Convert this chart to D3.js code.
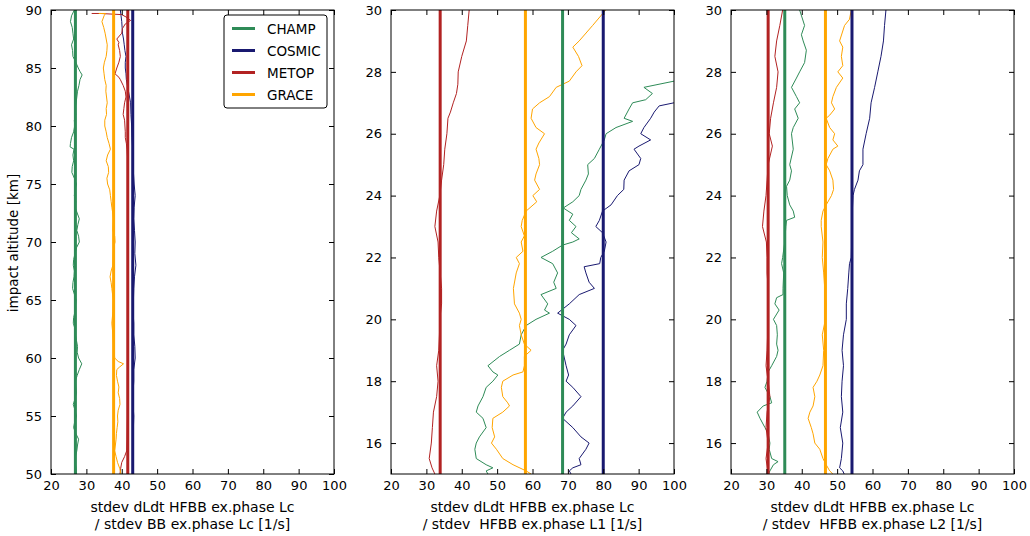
<!DOCTYPE html>
<html>
<head>
<meta charset="utf-8">
<script src="https://cdn.jsdelivr.net/npm/d3@7/dist/d3.min.js"></script>
<style>
  body { margin: 0; background: #fff; }
  svg { display: block; }
  text { font-family: "DejaVu Sans", sans-serif; fill: #000; white-space: pre; }
</style>
</head>
<body>
<svg id="chart" width="1030" height="536"></svg>
<script>
// ---------------- DATA ----------------
const missions = ["CHAMP", "COSMIC", "METOP", "GRACE"];
const colors = { CHAMP: "#2e8b57", COSMIC: "#191970", METOP: "#b22222", GRACE: "#ffa500" };

const xTicks = [20, 30, 40, 50, 60, 70, 80, 90, 100];
const yTicksP1 = [50, 55, 60, 65, 70, 75, 80, 85, 90];
const yTicksP23 = [16, 18, 20, 22, 24, 26, 28, 30];

const xLabel1 = ["stdev dLdt HFBB ex.phase Lc", "/ stdev BB ex.phase Lc [1/s]"];
const xLabel2 = ["stdev dLdt HFBB ex.phase Lc", "/ stdev  HFBB ex.phase L1 [1/s]"];
const xLabel3 = ["stdev dLdt HFBB ex.phase Lc", "/ stdev  HFBB ex.phase L2 [1/s]"];
const yLabel = "impact altitude [km]";

// mean values (thick vertical lines)
const meanP1 = { CHAMP: 26.9, COSMIC: 43.1, METOP: 41.7, GRACE: 37.7 };
const meanP2 = { CHAMP: 68.5, COSMIC: 80.0, METOP: 33.9, GRACE: 58.0 };
const meanP3 = { CHAMP: 35.2, COSMIC: 54.2, METOP: 30.5, GRACE: 46.7 };

// profiles: [altitude, value]
const p1_CHAMP = [[90,26.6],[89.5,25.8],[89,25.5],[88.5,26.0],[88,26.2],[87.5,26.4],[87,25.8],[86.5,26.1],[86,26.2],[85.5,27.0],[85,27.7],[84.7,28.2],[84.4,28.8],[84,28.2],[83.5,27.9],[83,27.5],[82.5,27.3],[82,27.1],[81.5,26.8],[81,27.0],[80.5,26.6],[80,26.7],[79.5,26.4],[79,25.8],[78.5,25.5],[78.2,25.4],[78,26.5],[77.5,26.2],[77,26.4],[76.5,26.0],[76,25.9],[75.5,26.6],[75,27.2],[74.5,26.8],[74,26.6],[73.5,27.0],[73,26.8],[72.5,27.4],[72,28.0],[71.5,27.6],[71,27.3],[70.5,27.8],[70,28.0],[69.5,27.2],[69,26.8],[68.5,26.4],[68,26.3],[67.5,26.6],[67,26.5],[66.5,26.2],[66,26.1],[65.5,26.6],[65,27.1],[64.5,26.9],[64,26.8],[63.5,26.4],[63,26.3],[62.5,26.8],[62,26.9],[61.5,27.2],[61,27.5],[60.5,27.4],[60,27.8],[59.5,28.7],[59,28.0],[58.5,27.4],[58,26.9],[57.5,27.0],[57,27.2],[56.5,26.8],[56,26.3],[55.5,26.8],[55,27.2],[54.5,26.7],[54,26.4],[53.5,27.0],[53,27.8],[52.5,27.5],[52,27.3],[51.5,26.9],[51,26.8],[50.5,27.1],[50,27.2]];
const p1_COSMIC = [[90,39.6],[89.5,39.8],[89,40.0],[88.5,40.1],[88,40.2],[87.5,40.5],[87,40.7],[86.5,40.9],[86,41.2],[85.5,41.0],[85,41.0],[84.5,41.2],[84,41.3],[83.5,41.6],[83,41.9],[82.5,42.2],[82,42.5],[81,42.6],[80,42.8],[79,42.9],[78,43.1],[77,43.2],[76,43.3],[75,43.5],[74,43.8],[73,43.5],[72,43.4],[71,43.6],[70,43.8],[69,43.7],[68,44.0],[67,43.6],[66,43.4],[65,43.3],[64,43.2],[63,43.4],[62,43.4],[61,43.7],[60,43.8],[59,43.4],[58,43.4],[57,43.2],[56,43.2],[55,43.4],[54,43.3],[53,43.2],[52,43.1],[51,43.2],[50,43.2]];
const p1_METOP = [[89.7,31.5],[89.7,34.0],[89.6,40.0],[89.4,41.2],[89.1,42.5],[88.8,41.0],[88.4,40.2],[88,40.0],[87.5,38.6],[87.2,39.2],[87,39.0],[86.5,39.4],[86,39.6],[85.5,39.2],[85,38.6],[84.5,38.1],[84.2,39.2],[84,39.6],[83.5,40.4],[83,41.0],[82.5,41.2],[82,40.8],[81.5,40.6],[81,40.4],[80.5,40.8],[80,40.9],[79.5,41.0],[79,41.0],[78.5,41.3],[78,41.5],[77,41.7],[75,41.7],[73,41.7],[70,41.7],[67,41.7],[64,41.7],[61,41.7],[58,41.6],[55,41.6],[53,41.5],[52,41.4],[51.5,40.8],[51,40.0],[50.5,39.7],[50,39.5]];
const p1_GRACE = [[89.7,33.5],[89.7,35.4],[89.5,35.0],[89,34.4],[88.5,34.9],[88,35.3],[87.5,35.6],[87,35.9],[86.5,35.8],[86,35.6],[85.5,35.1],[85,34.8],[84.5,35.0],[84,35.2],[83.5,35.6],[83,35.5],[82.5,35.7],[82,35.9],[81.5,35.6],[81,35.7],[80.5,35.2],[80,35.2],[79.5,35.6],[79,35.9],[78.5,36.4],[78,36.8],[77.5,36.0],[77,35.6],[76.5,36.2],[76,36.3],[75.5,35.8],[75,36.0],[74.5,36.6],[74,36.8],[73.5,37.0],[73,37.2],[72,37.7],[71,37.5],[70.5,38.0],[70,38.1],[69.5,37.7],[69,37.6],[68,37.5],[67.5,37.0],[67,36.7],[66.5,37.0],[66,37.2],[65,37.6],[64,37.5],[63,37.2],[62,37.5],[61,37.7],[60,38.0],[59.7,39.0],[59.5,40.5],[59.2,39.3],[59,38.6],[58.5,38.5],[58,38.8],[57.5,39.2],[57,39.0],[56.5,39.4],[56,39.5],[55.5,39.0],[55,38.8],[54.5,38.9],[54,38.7],[53.5,38.5],[53,38.4],[52.5,38.2],[52,38.0],[51.5,38.4],[51,38.8],[50.5,39.4],[50,39.8]];

const p2_CHAMP = [[27.7,100],[27.5,91.5],[27.3,93.9],[27.1,92.0],[27,88.3],[26.8,87.3],[26.5,85.9],[26.4,88.3],[26.2,83.6],[26,80.8],[25.8,80.3],[25.5,78.9],[25.2,77.5],[25,75.6],[24.7,75.8],[24.5,75.1],[24.2,73.7],[24,73.2],[23.8,71.4],[23.6,68.7],[23.4,71.4],[23.2,70.4],[23,72.3],[22.8,71.0],[22.6,73.2],[22.5,71.4],[22.4,68.5],[22.2,65.7],[22,62.4],[21.8,65.7],[21.5,67.1],[21.2,66.0],[21,66.7],[20.8,62.4],[20.5,64.3],[20.3,63.4],[20.2,64.8],[20,61.0],[19.8,58.2],[19.5,56.8],[19.2,56.3],[19,53.5],[18.8,50.7],[18.5,47.4],[18.3,48.8],[18.2,50.2],[18,48.8],[17.8,46.9],[17.5,46.0],[17.2,44.6],[17,44.1],[16.8,46.0],[16.5,46.9],[16.2,45.0],[16,44.1],[15.8,43.7],[15.5,44.1],[15.3,46.9],[15.2,48.8],[15.1,46.9],[15,47.4]];
const p2_COSMIC = [[27,100],[26.9,95.8],[26.7,94.4],[26.5,93.4],[26.2,91.5],[26,90.6],[25.8,93.4],[25.6,90.1],[25.5,88.7],[25.2,90.6],[25,90.1],[24.8,87.3],[24.5,85.9],[24.2,85.8],[24,84.0],[23.7,82.2],[23.5,79.8],[23.2,78.9],[23,77.9],[22.8,79.8],[22.5,80.8],[22.2,80.3],[22,79.3],[21.8,79.0],[21.7,74.6],[21.5,75.1],[21.2,76.0],[21,77.5],[20.8,73.2],[20.5,70.4],[20.2,67.1],[20,70.4],[19.8,72.3],[19.5,70.4],[19.2,69.5],[19,68.5],[18.5,69.5],[18.2,70.2],[18,69.5],[17.8,71.4],[17.5,73.7],[17.2,71.4],[17,69.5],[16.8,68.5],[16.5,71.4],[16.2,73.7],[16,76.0],[15.8,75.1],[15.5,73.2],[15.3,73.7],[15.2,71.4],[15.1,70.4],[15,70.9]];
const p2_METOP = [[30,42.1],[29.5,41.7],[29,41.3],[28.5,40.0],[28,39.0],[27.6,38.9],[27.3,38.5],[27,37.6],[26.7,36.8],[26.5,36.1],[26,35.8],[25.5,35.2],[25,34.9],[24.5,34.3],[24,33.8],[23.5,32.9],[23,32.4],[22.5,33.3],[22,33.5],[21.5,33.9],[21,34.3],[20.5,34.3],[20,33.8],[19.5,33.7],[19,33.5],[18.5,32.9],[18,33.3],[17.5,32.9],[17,32.0],[16.5,31.7],[16,31.4],[15.5,30.8],[15.2,31.6],[15,32.4]];
const p2_GRACE = [[30,80.7],[29.5,77.0],[29,73.2],[28.8,71.4],[28.5,73.0],[28.2,74.0],[28,72.3],[27.7,70.4],[27.5,66.7],[27.2,64.8],[27,62.0],[26.8,60.0],[26.5,59.6],[26.2,61.0],[26,63.4],[25.7,61.8],[25.5,61.0],[25.2,61.8],[25,62.0],[24.7,61.0],[24.5,60.6],[24.2,62.0],[24,60.1],[23.8,61.2],[23.5,58.2],[23.2,57.1],[23,56.8],[22.7,57.7],[22.5,56.8],[22.2,57.3],[22,55.4],[21.8,56.3],[21.5,55.4],[21,54.6],[20.5,54.9],[20.2,56.3],[20,56.8],[19.8,56.3],[19.5,56.8],[19.2,57.7],[19,59.6],[18.8,57.7],[18.5,57.7],[18.3,57.3],[18.2,54.5],[18,51.6],[17.8,51.2],[17.5,51.6],[17.3,53.0],[17.2,53.5],[17,51.6],[16.8,48.8],[16.5,48.6],[16.2,49.3],[16,48.4],[15.8,49.8],[15.5,51.6],[15.3,54.5],[15.1,58.2],[15,59.6]];

const p3_CHAMP = [[30,39.4],[29.5,40.8],[29.2,39.9],[29,40.4],[28.7,41.3],[28.3,40.8],[28,39.4],[27.8,38.5],[27.5,37.1],[27.2,38.5],[27,39.4],[26.8,38.0],[26.5,39.0],[26.2,37.6],[26,37.1],[25.5,37.6],[25,36.6],[24.8,37.1],[24.5,36.6],[24.3,35.7],[24,35.9],[23.7,36.6],[23.5,37.6],[23.3,38.0],[23.2,35.7],[23,35.5],[22.5,35.2],[22,34.6],[21.8,34.3],[21.5,34.9],[21,34.7],[20.8,34.7],[20.7,32.9],[20.5,32.4],[20.3,33.6],[20,32.0],[19.8,32.9],[19.5,33.1],[19.2,32.9],[19,33.3],[18.8,32.9],[18.5,31.5],[18.3,30.5],[18,30.2],[17.8,29.6],[17.5,31.0],[17.3,31.5],[17.2,29.1],[17,27.4],[16.8,28.2],[16.5,29.6],[16.3,30.5],[16,31.0],[15.8,30.8],[15.5,31.5],[15.4,33.3],[15.3,32.0],[15.1,31.0],[15,30.6]];
const p3_COSMIC = [[30,63.8],[29.5,63.4],[29,63.1],[28.5,62.4],[28,61.5],[27.5,60.6],[27,59.6],[26.5,59.2],[26,58.2],[25.5,57.3],[25,57.3],[24.8,56.3],[24.5,55.9],[24.2,54.9],[24,54.5],[23.5,54.3],[23,54.3],[22.5,54.1],[22,54.0],[21.8,53.5],[21.5,53.3],[21,53.0],[20.5,52.6],[20,52.6],[19.5,51.8],[19,51.4],[18.5,51.8],[18,51.4],[17.5,51.2],[17,51.6],[16.5,50.9],[16,51.6],[15.5,51.2],[15.2,50.7],[15.1,51.6],[15,52.0]];
const p3_METOP = [[30,34.6],[29.5,33.8],[29,32.9],[28.5,32.4],[28,33.3],[27.5,32.9],[27,32.0],[26.5,31.2],[26,30.8],[25.6,31.7],[25,30.5],[24.5,30.2],[24,29.9],[23.5,29.3],[23,28.9],[22.5,30.0],[22,30.2],[21.5,30.2],[21,30.5],[20,30.5],[19,30.2],[18.5,29.9],[18,30.5],[17.5,31.0],[17,30.2],[16.5,29.9],[16,30.5],[15.5,29.9],[15,30.5]];
const p3_GRACE = [[30,54.0],[29.7,53.5],[29.5,52.1],[29,50.7],[28.8,51.6],[28.5,51.2],[28.2,51.6],[28,50.2],[27.8,51.6],[27.5,49.8],[27.2,48.8],[27,48.4],[26.8,49.3],[26.6,47.9],[26.5,46.9],[26.2,47.9],[26,49.3],[25.8,48.8],[25.6,50.2],[25.5,48.8],[25.2,47.4],[25,46.9],[24.8,47.9],[24.5,48.8],[24.2,49.0],[24,48.4],[23.7,46.9],[23.5,46.0],[23.2,45.5],[23,45.5],[22.5,46.0],[22,45.8],[21.5,46.2],[21,46.5],[20.5,46.9],[20,46.7],[19.5,45.8],[19,46.2],[18.5,46.0],[18.2,45.1],[18,44.3],[17.8,43.2],[17.5,43.7],[17.2,43.2],[17,42.3],[16.8,41.8],[16.5,42.7],[16.3,43.2],[16,43.7],[15.8,45.1],[15.5,46.0],[15.3,46.9],[15.1,47.9],[15,48.8]];

// ---------------- LAYOUT ----------------
const svg = d3.select("#chart");
const plotTop = 10, plotBottom = 474;
const panelLefts = [51, 391, 731];
const panelW = 283;
const tickFont = 13, labelFont = 14, legendFont = 13.5;

const panels = [
  { yDomain: [50, 90], yTicks: yTicksP1, means: meanP1, label: xLabel1,
    profiles: { CHAMP: p1_CHAMP, COSMIC: p1_COSMIC, METOP: p1_METOP, GRACE: p1_GRACE } },
  { yDomain: [15, 30], yTicks: yTicksP23, means: meanP2, label: xLabel2,
    profiles: { CHAMP: p2_CHAMP, COSMIC: p2_COSMIC, METOP: p2_METOP, GRACE: p2_GRACE } },
  { yDomain: [15, 30], yTicks: yTicksP23, means: meanP3, label: xLabel3,
    profiles: { CHAMP: p3_CHAMP, COSMIC: p3_COSMIC, METOP: p3_METOP, GRACE: p3_GRACE } }
];

panels.forEach((p, i) => {
  const left = panelLefts[i];
  const x = d3.scaleLinear().domain([20, 100]).range([left, left + panelW]);
  const y = d3.scaleLinear().domain(p.yDomain).range([plotBottom, plotTop]);
  const g = svg.append("g");

  const clipId = "clip" + i;
  svg.append("clipPath").attr("id", clipId).append("rect")
    .attr("x", left).attr("y", plotTop).attr("width", panelW).attr("height", plotBottom - plotTop);

  const plot = g.append("g").attr("clip-path", `url(#${clipId})`);
  const line = d3.line().x(d => x(d[1])).y(d => y(d[0]));

  missions.forEach(m => {
    plot.append("path").datum(p.profiles[m])
      .attr("d", line).attr("fill", "none")
      .attr("stroke", colors[m]).attr("stroke-width", 1).attr("stroke-linejoin", "round");
  });
  missions.forEach(m => {
    plot.append("line")
      .attr("x1", x(p.means[m])).attr("x2", x(p.means[m]))
      .attr("y1", plotTop).attr("y2", plotBottom)
      .attr("stroke", colors[m]).attr("stroke-width", 3);
  });

  const axB = d3.axisBottom(x).tickValues(xTicks).tickSizeInner(-5).tickSizeOuter(0).tickPadding(7).tickFormat(d3.format("d"));
  const axT = d3.axisTop(x).tickValues(xTicks).tickSizeInner(-5).tickSizeOuter(0).tickFormat("");
  const axL = d3.axisLeft(y).tickValues(p.yTicks).tickSizeInner(-5).tickSizeOuter(0).tickPadding(9).tickFormat(d3.format("d"));
  const axR = d3.axisRight(y).tickValues(p.yTicks).tickSizeInner(-5).tickSizeOuter(0).tickFormat("");

  const styleAx = sel => {
    sel.select(".domain").remove();
    sel.selectAll(".tick line").attr("stroke", "#000").attr("stroke-width", 1);
    sel.selectAll(".tick text").attr("font-size", tickFont).attr("font-family", "DejaVu Sans, sans-serif").attr("fill", "#000");
  };
  g.append("g").attr("transform", `translate(0,${plotBottom})`).call(axB).call(styleAx);
  g.append("g").attr("transform", `translate(0,${plotTop})`).call(axT).call(styleAx);
  g.append("g").attr("transform", `translate(${left},0)`).call(axL).call(styleAx);
  g.append("g").attr("transform", `translate(${left + panelW},0)`).call(axR).call(styleAx);

  g.append("rect").attr("x", left).attr("y", plotTop).attr("width", panelW).attr("height", plotBottom - plotTop)
    .attr("fill", "none").attr("stroke", "#000").attr("stroke-width", 1);

  const cx = left + panelW / 2;
  g.append("text").attr("x", cx).attr("y", 512).attr("text-anchor", "middle").attr("font-size", labelFont).text(p.label[0]);
  g.append("text").attr("x", cx).attr("y", 529).attr("text-anchor", "middle").attr("font-size", labelFont).text(p.label[1]);
});

svg.append("text").attr("transform", "translate(18,243) rotate(-90)")
  .attr("text-anchor", "middle").attr("font-size", 13.5).text(yLabel);

const lg = svg.append("g");
lg.append("rect").attr("x", 224).attr("y", 15).attr("width", 103).attr("height", 93)
  .attr("rx", 3).attr("fill", "#fff").attr("stroke", "#000").attr("stroke-width", 1);
missions.forEach((m, k) => {
  const yy = 28.5 + k * 22;
  lg.append("line").attr("x1", 232).attr("x2", 255).attr("y1", yy).attr("y2", yy)
    .attr("stroke", colors[m]).attr("stroke-width", 3);
  lg.append("text").attr("x", 267).attr("y", yy + 5).attr("font-size", legendFont).text(m);
});
</script>
</body>
</html>
